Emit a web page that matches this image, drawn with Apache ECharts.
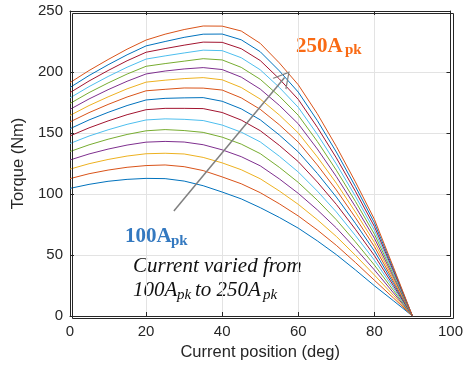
<!DOCTYPE html>
<html>
<head>
<meta charset="utf-8">
<script src="https://cdn.jsdelivr.net/npm/echarts@6/dist/echarts.min.js"></script>
<style>
  html, body { margin: 0; padding: 0; background: #fff; }
  #chart { width: 466px; height: 366px; }
</style>
</head>
<body>
<div id="chart"></div>
<script>
  // current angle (deg)
  var angles = [0, 5, 10, 15, 20, 25, 30, 35, 40, 45, 50, 55, 60, 65, 70, 75, 80, 85, 90];
  var currents = ['100A', '110A', '120A', '130A', '140A', '150A', '160A', '170A',
                  '180A', '190A', '200A', '210A', '220A', '230A', '240A', '250A'];

  // torque (Nm), one list per peak current
  var t100 = [104.6, 107.9, 110.4, 112.0, 112.8, 112.6, 110.6, 106.8, 101.6, 96.0, 88.8, 80.8, 72.0, 61.6, 50.3, 37.8, 24.8, 12.5, 0];
  var t110 = [112.6, 116.6, 119.6, 121.9, 123.3, 123.8, 122.4, 119.2, 114.0, 108.4, 101.1, 92.0, 82.0, 70.5, 57.9, 43.9, 29.3, 14.8, 0];
  var t120 = [120.4, 124.8, 128.3, 131.1, 133.0, 133.4, 132.8, 130.0, 125.5, 119.9, 112.5, 102.5, 91.5, 78.9, 65.2, 49.8, 33.6, 16.9, 0];
  var t130 = [127.9, 132.8, 136.8, 140.1, 142.5, 143.1, 142.6, 140.4, 136.2, 130.6, 123.1, 112.4, 100.5, 87.0, 72.2, 55.4, 37.8, 19.0, 0];
  var t140 = [134.8, 140.3, 144.9, 148.8, 151.8, 152.8, 152.0, 150.5, 146.6, 140.9, 133.1, 121.9, 109.5, 94.9, 78.9, 60.8, 41.8, 21.0, 0];
  var t150 = [141.4, 147.5, 152.6, 157.1, 160.7, 161.6, 161.2, 160.2, 156.5, 150.7, 142.7, 131.0, 118.0, 102.4, 85.3, 66.0, 45.8, 23.0, 0];
  var t160 = [147.6, 154.2, 159.9, 165.0, 169.1, 170.2, 170.2, 170.0, 166.8, 160.6, 151.9, 139.9, 126.5, 109.8, 91.5, 71.1, 49.6, 24.9, 0];
  var t170 = [153.5, 160.7, 166.9, 172.5, 177.1, 178.4, 178.8, 179.0, 176.0, 169.8, 160.8, 148.4, 134.5, 116.9, 97.5, 76.0, 53.3, 26.8, 0];
  var t180 = [159.1, 166.7, 173.4, 179.5, 184.6, 185.8, 186.9, 186.8, 185.2, 178.8, 169.4, 156.8, 142.5, 123.8, 103.3, 80.7, 56.9, 28.6, 0];
  var t190 = [164.4, 172.5, 179.6, 186.2, 191.7, 193.3, 194.6, 195.4, 193.6, 187.3, 177.8, 164.8, 150.0, 130.4, 108.9, 85.3, 60.4, 30.4, 0];
  var t200 = [169.4, 177.9, 185.5, 192.4, 198.4, 200.8, 202.5, 203.6, 202.0, 195.8, 186.0, 172.7, 157.5, 136.9, 114.3, 89.7, 63.8, 32.1, 0];
  var t210 = [174.2, 183.1, 191.0, 198.3, 204.7, 206.9, 208.9, 210.9, 209.9, 203.8, 194.0, 180.2, 164.5, 143.1, 119.5, 94.0, 67.1, 33.8, 0];
  var t220 = [178.8, 188.0, 196.3, 203.9, 210.6, 213.2, 215.6, 217.9, 217.5, 211.7, 201.8, 187.4, 171.0, 148.9, 124.6, 98.2, 70.3, 35.4, 0];
  var t230 = [183.1, 192.6, 201.2, 209.2, 216.2, 219.2, 222.0, 224.5, 224.3, 219.1, 209.4, 194.4, 177.5, 154.7, 129.6, 102.3, 73.4, 37.0, 0];
  var t240 = [187.3, 197.1, 205.9, 214.1, 221.4, 225.0, 228.4, 231.0, 231.1, 226.4, 216.6, 201.0, 183.5, 160.2, 134.4, 106.2, 76.4, 38.5, 0];
  var t250 = [191.3, 201.2, 210.2, 218.7, 226.2, 231.0, 234.8, 237.7, 237.6, 233.6, 223.5, 207.5, 189.5, 165.8, 139.0, 110.0, 79.3, 40.0, 0];

  var torque = [t100, t110, t120, t130, t140, t150, t160, t170,
                t180, t190, t200, t210, t220, t230, t240, t250];

  // arrow from 100A to 250A (data coords)
  var arrowFrom = [27.3, 86];
  var arrowTo = [56.4, 195.5];

  var matlabColors = ['#0072BD', '#D95319', '#EDB120', '#7E2F8E', '#77AC30', '#4DBEEE', '#A2142F'];
  var axisColor = '#262626';
  var sans = '"Liberation Sans", Arial, sans-serif';
  var serif = '"Liberation Serif", "Times New Roman", serif';

  var myChart = echarts.init(document.getElementById('chart'));

  var series = [];
  for (var i = 0; i < torque.length; i++) {
    var pts = [];
    for (var j = 0; j < angles.length; j++) {
      pts.push([angles[j], torque[i][j]]);
    }
    series.push({
      name: currents[i],
      type: 'line',
      data: pts,
      showSymbol: false,
      symbol: 'none',
      lineStyle: { width: 1, color: matlabColors[i % 7] },
      itemStyle: { color: matlabColors[i % 7] }
    });
  }

  // gray arrow on top of the last curve
  series[series.length - 1].markLine = {
    silent: true,
    symbol: ['none', 'path://M50,0 L100,100 L92,100 L50,15 L8,100 L0,100 Z'],
    symbolSize: [18, 16],
    label: { show: false },
    lineStyle: { color: '#808080', width: 1.5, type: 'solid' },
    data: [[{ coord: arrowFrom }, { coord: arrowTo }]]
  };

  // empty series so the top / right box axes get drawn with their ticks
  series.push({ type: 'line', xAxisIndex: 1, yAxisIndex: 1, data: [], silent: true });

  var option = {
    animation: false,
    backgroundColor: '#fff',
    grid: { left: 70, right: 15, top: 11, bottom: 50 },
    xAxis: [{
      type: 'value',
      min: 0,
      max: 100,
      interval: 20,
      name: 'Current position (deg)',
      nameLocation: 'middle',
      nameGap: 27,
      nameTextStyle: { fontSize: 16.5, color: axisColor, fontFamily: sans },
      axisLine: { show: true, onZero: false, lineStyle: { color: axisColor, width: 1 } },
      axisTick: { show: true, inside: true, length: 4, lineStyle: { color: axisColor } },
      axisLabel: { fontSize: 15, color: axisColor, fontFamily: sans, margin: 8 },
      splitLine: { show: true, lineStyle: { color: '#e3e3e3', width: 1 } }
    }, {
      type: 'value',
      position: 'top',
      min: 0,
      max: 100,
      interval: 20,
      axisLine: { show: true, onZero: false, lineStyle: { color: axisColor, width: 1 } },
      axisTick: { show: true, inside: true, length: 4, lineStyle: { color: axisColor } },
      axisLabel: { show: false },
      splitLine: { show: false }
    }],
    yAxis: [{
      type: 'value',
      min: 0,
      max: 250,
      interval: 50,
      name: 'Torque (Nm)',
      nameLocation: 'middle',
      nameGap: 30,
      nameTextStyle: { fontSize: 16.5, color: axisColor, fontFamily: sans },
      axisLine: { show: true, onZero: false, lineStyle: { color: axisColor, width: 1 } },
      axisTick: { show: true, inside: true, length: 4, lineStyle: { color: axisColor } },
      axisLabel: { fontSize: 15, color: axisColor, fontFamily: sans, margin: 7 },
      splitLine: { show: true, lineStyle: { color: '#e3e3e3', width: 1 } }
    }, {
      type: 'value',
      position: 'right',
      min: 0,
      max: 250,
      interval: 50,
      axisLine: { show: true, onZero: false, lineStyle: { color: axisColor, width: 1 } },
      axisTick: { show: true, inside: true, length: 4, lineStyle: { color: axisColor } },
      axisLabel: { show: false },
      splitLine: { show: false }
    }],
    series: series,
    graphic: [
      // plot box (top and right edges)
      { type: 'rect', left: 70, top: 11, z: 100, silent: true,
        shape: { width: 381, height: 305 },
        style: { fill: 'none', stroke: axisColor, lineWidth: 1 } },
      { type: 'text', left: 296, top: 36, style: { text: '250A', font: 'bold 21px ' + serif, fill: '#f96a14' } },
      { type: 'text', left: 345, top: 43, style: { text: 'pk', font: 'bold 15px ' + serif, fill: '#f96a14' } },
      { type: 'text', left: 125, top: 226, style: { text: '100A', font: 'bold 21px ' + serif, fill: '#3479c0' } },
      { type: 'text', left: 171, top: 234, style: { text: 'pk', font: 'bold 15px ' + serif, fill: '#3479c0' } },
      { type: 'text', left: 133, top: 256, style: { text: 'Current varied from', font: 'italic 21px ' + serif, fill: '#111' } },
      { type: 'text', left: 133, top: 280, style: { text: '100A', font: 'italic 21px ' + serif, fill: '#111' } },
      { type: 'text', left: 177, top: 288, style: { text: 'pk', font: 'italic 15px ' + serif, fill: '#111' } },
      { type: 'text', left: 195, top: 280, style: { text: 'to 250A', font: 'italic 21px ' + serif, fill: '#111' } },
      { type: 'text', left: 263, top: 288, style: { text: 'pk', font: 'italic 15px ' + serif, fill: '#111' } }
    ]
  };

  myChart.setOption(option);
</script>
</body>
</html>
